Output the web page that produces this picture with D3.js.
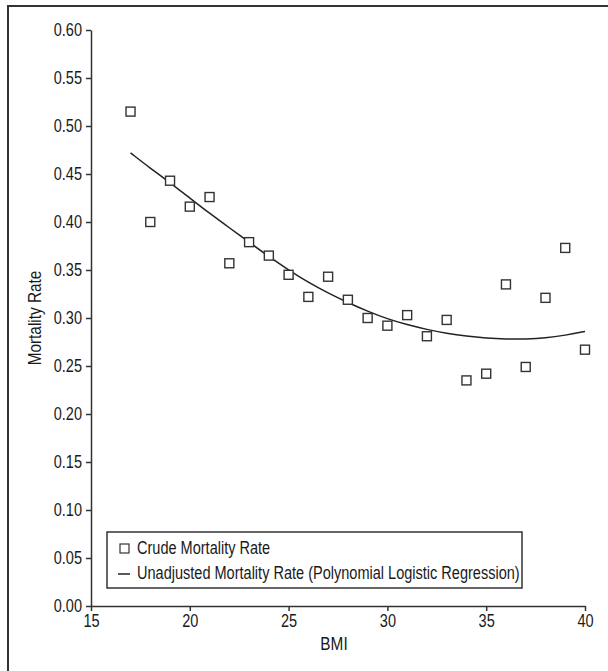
<!DOCTYPE html>
<html>
<head>
<meta charset="utf-8">
<script src="https://cdn.jsdelivr.net/npm/d3@7"></script>
<style>
  body { margin: 0; background: #fff; }
  svg text { font-family: "Liberation Sans", Arial, sans-serif; fill: #1a1a1a; }
</style>
</head>
<body>
<svg width="608" height="671"></svg>
<script>
// crude mortality by BMI (squares)
var bmi = [17, 18, 19, 20, 21, 22, 23, 24, 25, 26, 27, 28, 29, 30, 31, 32, 33, 34, 35, 36, 37, 38, 39, 40];
var crudeRate = [0.515, 0.400, 0.443, 0.416, 0.426, 0.357, 0.379, 0.365, 0.345, 0.322, 0.343, 0.319,
                 0.300, 0.292, 0.303, 0.281, 0.298, 0.235, 0.242, 0.335, 0.249, 0.321, 0.373, 0.267];

// fitted curve at each BMI
var fitBmi = [17, 18, 19, 20, 21, 22, 23, 24, 25, 26, 27, 28, 29, 30, 31, 32, 33, 34, 35, 36, 37, 38, 39, 40];
var fitRate = [0.472, 0.456, 0.441, 0.425, 0.409, 0.394, 0.379, 0.364, 0.350, 0.337, 0.326, 0.316,
               0.307, 0.299, 0.293, 0.288, 0.284, 0.281, 0.279, 0.278, 0.278, 0.279, 0.282, 0.286];

var xTicks = [15, 20, 25, 30, 35, 40];
var yTicks = [0, 0.05, 0.10, 0.15, 0.20, 0.25, 0.30, 0.35, 0.40, 0.45, 0.50, 0.55, 0.60];

var legendLabels = ["Crude Mortality Rate", "Unadjusted Mortality Rate (Polynomial Logistic Regression)"];

var svg = d3.select("svg");

var x = d3.scaleLinear().domain([15, 40]).range([91, 585]);
var y = d3.scaleLinear().domain([0, 0.6]).range([606, 30]);

// outer frame (runs off the right and bottom edges)
svg.append("rect")
    .attr("x", 8).attr("y", 6)
    .attr("width", 640).attr("height", 700)
    .attr("fill", "none")
    .attr("stroke", "#333")
    .attr("stroke-width", 2);

var yAxis = svg.append("g")
    .attr("transform", "translate(91,0)")
    .call(d3.axisLeft(y).tickValues(yTicks).tickFormat(d3.format(".2f")).tickSize(5).tickSizeOuter(0));

var xAxis = svg.append("g")
    .attr("transform", "translate(0,606)")
    .call(d3.axisBottom(x).tickValues(xTicks).tickFormat(d3.format("d")).tickSize(5).tickSizeOuter(0));

svg.selectAll(".domain, .tick line")
    .attr("stroke", "#333")
    .attr("stroke-width", 1.5);

yAxis.selectAll(".tick text")
    .attr("x", -9)
    .attr("font-size", 17.5);

xAxis.selectAll(".tick text")
    .attr("y", 9)
    .attr("font-size", 17.5);

svg.append("text")
    .attr("transform", "translate(41,318) rotate(-90)")
    .attr("text-anchor", "middle")
    .attr("font-size", 18.5)
    .text("Mortality Rate");

svg.append("text")
    .attr("x", 334)
    .attr("y", 650)
    .attr("text-anchor", "middle")
    .attr("font-size", 18.5)
    .text("BMI");

// fitted curve
var line = d3.line()
    .x(function(d) { return x(d[0]); })
    .y(function(d) { return y(d[1]); })
    .curve(d3.curveBasis);

svg.append("path")
    .datum(d3.zip(fitBmi, fitRate))
    .attr("d", line)
    .attr("fill", "none")
    .attr("stroke", "#222")
    .attr("stroke-width", 1.5);

// squares
svg.append("g")
  .selectAll("rect")
  .data(d3.zip(bmi, crudeRate))
  .enter().append("rect")
    .attr("x", function(d) { return x(d[0]) - 4.5; })
    .attr("y", function(d) { return y(d[1]) - 4.5; })
    .attr("width", 9)
    .attr("height", 9)
    .attr("fill", "#fff")
    .attr("stroke", "#333")
    .attr("stroke-width", 1.4);

// legend
var legend = svg.append("g");

legend.append("rect")
    .attr("x", 107).attr("y", 532)
    .attr("width", 415).attr("height", 56)
    .attr("fill", "#fff")
    .attr("stroke", "#333")
    .attr("stroke-width", 1.5);

legend.append("rect")
    .attr("x", 120).attr("y", 544)
    .attr("width", 9).attr("height", 9)
    .attr("fill", "#fff")
    .attr("stroke", "#333")
    .attr("stroke-width", 1.2);

legend.append("line")
    .attr("x1", 118).attr("x2", 130)
    .attr("y1", 574).attr("y2", 574)
    .attr("stroke", "#222")
    .attr("stroke-width", 1.5);

legend.selectAll("text.lab")
  .data(legendLabels)
  .enter().append("text")
    .attr("class", "lab")
    .attr("x", 137)
    .attr("y", function(d, i) { return 554 + i * 25; })
    .attr("font-size", 17.5)
    .text(function(d) { return d; });

// no narrow font installed: squeeze every label to a condensed width
svg.selectAll("text").each(function() {
  var w = this.getComputedTextLength();
  d3.select(this)
      .attr("textLength", w * 0.83)
      .attr("lengthAdjust", "spacingAndGlyphs");
});
</script>
</body>
</html>
